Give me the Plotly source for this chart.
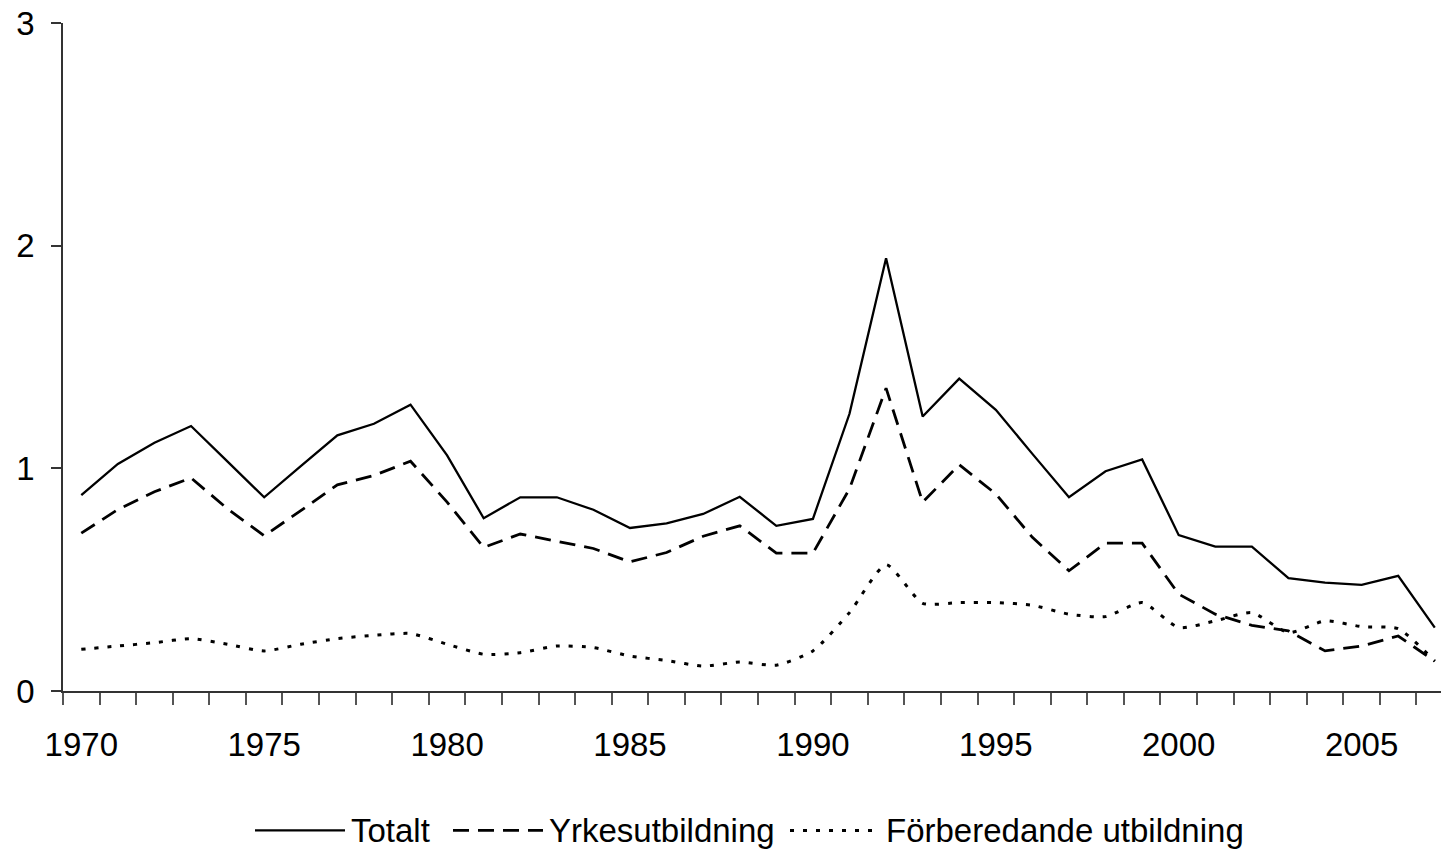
import plotly.graph_objects as go

years = list(range(1970, 2008))
totalt = [0.88, 1.02, 1.115, 1.19, 1.03, 0.87, 1.01, 1.148, 1.20, 1.286,
          1.058, 0.776, 0.87, 0.87, 0.814, 0.732, 0.753, 0.795, 0.872, 0.742,
          0.773, 1.245, 1.944, 1.233, 1.403, 1.263, 1.065, 0.87, 0.987, 1.04,
          0.70, 0.648, 0.648, 0.507, 0.487, 0.477, 0.517, 0.285]
yrkes = [0.709, 0.815, 0.895, 0.957, 0.818, 0.697, 0.81, 0.926, 0.968, 1.032,
         0.848, 0.645, 0.705, 0.672, 0.64, 0.58, 0.622, 0.695, 0.742, 0.619,
         0.619, 0.908, 1.36, 0.848, 1.016, 0.885, 0.69, 0.54, 0.664, 0.664,
         0.435, 0.345, 0.295, 0.27, 0.18, 0.202, 0.247, 0.134]
forbered = [0.187, 0.202, 0.217, 0.235, 0.21, 0.18, 0.21, 0.235, 0.25, 0.258,
            0.21, 0.165, 0.172, 0.202, 0.195, 0.157, 0.137, 0.112, 0.13, 0.116,
            0.18, 0.352, 0.567, 0.394, 0.397, 0.397, 0.385, 0.345, 0.334, 0.397,
            0.285, 0.315, 0.352, 0.262, 0.315, 0.289, 0.28, 0.134]
names = ["Totalt", "Yrkesutbildning", "Förberedande utbildning"]
ytick_vals = [0, 1, 2, 3]
xtick_vals = [1970, 1975, 1980, 1985, 1990, 1995, 2000, 2005]

FONT = "Liberation Sans, Arial, sans-serif"
W, H = 1441, 849
L, R, T, B = 63, 0, 23, 157.5
PW = W - L - R
PH = H - T - B

fig = go.Figure()
fig.add_trace(go.Scatter(x=years, y=totalt, name=names[0], mode="lines",
                         line=dict(color="black", width=2.3)))
fig.add_trace(go.Scatter(x=years, y=yrkes, name=names[1], mode="lines",
                         line=dict(color="black", width=2.8, dash="16px,9px")))
fig.add_trace(go.Scatter(x=years, y=forbered, name=names[2], mode="lines",
                         line=dict(color="black", width=3, dash="4px,9px",
                                   shape="spline", smoothing=0.6)))

# custom legend (positions in pixels converted to paper coords)
def px_x(p):
    return (p - L) / PW

def px_y(p):
    return (H - B - p) / PH

leg_y = 831
items = [(255, 345, None, 2.3), (453, 543, "16px,9px", 2.8), (790, 880, "4px,9px", 3)]
for (x0, x1, dash, w), name in zip(items, names):
    fig.add_shape(type="line", xref="paper", yref="paper",
                  x0=px_x(x0), x1=px_x(x1), y0=px_y(leg_y), y1=px_y(leg_y),
                  line=dict(color="black", width=w, dash=dash if dash else "solid"))
    fig.add_annotation(xref="paper", yref="paper", x=px_x(x1 + 4), y=px_y(leg_y),
                       xanchor="left", yanchor="middle", text=name, showarrow=False,
                       font=dict(family=FONT, size=33, color="black"))

fig.update_layout(
    width=W, height=H,
    margin=dict(l=L, r=R, t=T, b=B, autoexpand=False),
    paper_bgcolor="white", plot_bgcolor="white",
    showlegend=False,
    font=dict(family=FONT, size=33, color="black"),
)
fig.update_xaxes(
    automargin=False,
    range=[1969.5, 2007.17],
    tickvals=xtick_vals, ticktext=[str(v) for v in xtick_vals],
    ticks="outside", ticklen=0, ticklabelstandoff=24,
    minor=dict(tick0=1969.5, dtick=1, ticks="outside", ticklen=12,
               tickcolor="#555", tickwidth=1.5),
    showline=True, linecolor="#333", linewidth=1.5,
    showgrid=False, zeroline=False,
    tickfont=dict(family=FONT, size=33, color="black"),
)
fig.update_yaxes(
    automargin=False,
    range=[0, 3], tickvals=ytick_vals, ticktext=[str(v) for v in ytick_vals],
    ticks="outside", ticklen=10, tickcolor="#333", tickwidth=1.5,
    ticklabelstandoff=10,
    showline=True, linecolor="#333", linewidth=1.5,
    showgrid=False, zeroline=False,
    tickfont=dict(family=FONT, size=33, color="black"),
)

fig.write_html("out.html", config={"displayModeBar": False},
               post_script="document.body.style.margin='0';document.body.style.overflow='hidden';")
